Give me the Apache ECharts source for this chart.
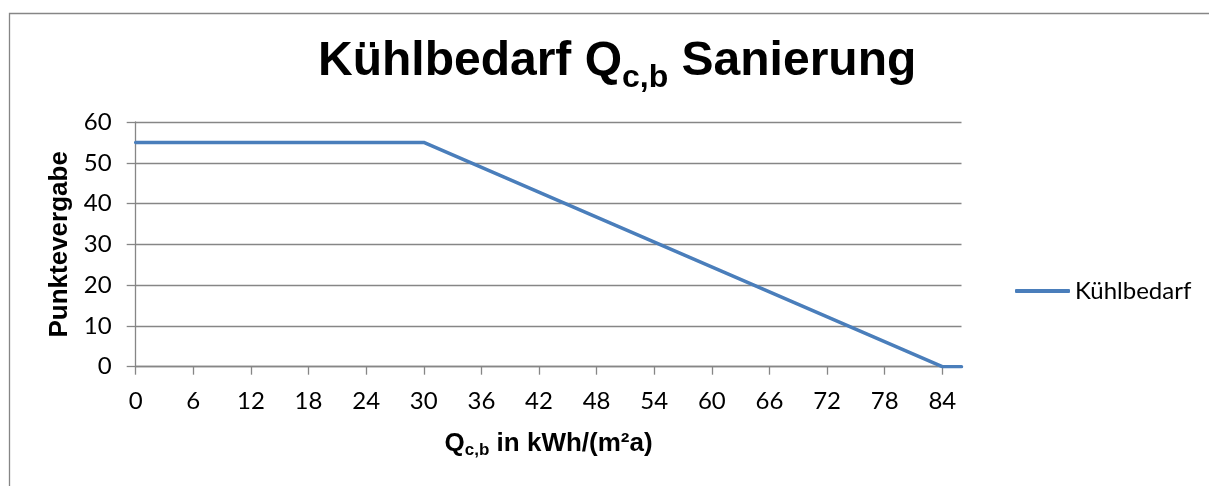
<!DOCTYPE html>
<html>
<head>
<meta charset="utf-8">
<script src="https://cdn.jsdelivr.net/npm/echarts@6/dist/echarts.min.js"></script>
<style>
html,body{margin:0;padding:0;background:#fff;}
#chart{width:1209px;height:486px;}
</style>
</head>
<body>
<div id="chart"></div>
<script>
// Data
const seriesName = 'Kühlbedarf';
const xValues = [0, 30, 84, 86];
const yValues = [55, 55, 0, 0];
const xTickLabels = [0, 6, 12, 18, 24, 30, 36, 42, 48, 54, 60, 66, 72, 78, 84];
const yTickLabels = [0, 10, 20, 30, 40, 50, 60];

const points = xValues.map((x, i) => [x, yValues[i]]);

const gray = '#868686';
const lineBlue = '#4A7EBB';
const labelFont = 'Lato';
const boldFont = '"Liberation Sans", Arial, sans-serif';

const chart = echarts.init(document.getElementById('chart'), null, {renderer: 'canvas'});
chart.setOption({
  animation: false,
  backgroundColor: '#fff',
  graphic: [{
    type: 'rect',
    shape: {x: 9.5, y: 13.5, width: 1400, height: 700},
    style: {fill: null, stroke: gray, lineWidth: 1.3},
    silent: true
  }],
  title: {
    left: 318,
    top: 38,
    padding: 0,
    text: '{a|Kühlbedarf Q}{s|c,b}{a| Sanierung}',
    textStyle: {
      rich: {
        a: {fontFamily: boldFont, fontWeight: 'bold', fontSize: 48, lineHeight: 56, padding: [0, 0, 5, 0], verticalAlign: 'top', color: '#000'},
        s: {fontFamily: boldFont, fontWeight: 'bold', fontSize: 32, lineHeight: 32, verticalAlign: 'bottom', color: '#000'}
      }
    }
  },
  legend: {
    orient: 'vertical',
    left: 1015,
    top: 279,
    padding: 0,
    icon: 'roundRect',
    itemWidth: 55,
    itemHeight: 4,
    data: [seriesName],
    itemStyle: {color: lineBlue},
    textStyle: {fontFamily: labelFont, fontSize: 24, color: '#000'}
  },
  grid: {left: 135.7, right: 247.5, top: 122, bottom: 119.3, containLabel: false},
  xAxis: {
    type: 'value',
    min: 0,
    max: 86,
    interval: 6,
    name: '{q|Q}{s|c,b}{q| in kWh/(m²a)}',
    nameLocation: 'middle',
    nameGap: 62,
    nameTextStyle: {
      rich: {
        q: {fontFamily: boldFont, fontWeight: 'bold', fontSize: 26, lineHeight: 30, color: '#000'},
        s: {fontFamily: boldFont, fontWeight: 'bold', fontSize: 17, lineHeight: 8, verticalAlign: 'bottom', color: '#000'}
      }
    },
    axisLine: {show: true, onZero: true, lineStyle: {color: gray, width: 1.3}},
    axisTick: {show: true, inside: false, length: 8, lineStyle: {color: gray, width: 1.3}, customValues: xTickLabels},
    axisLabel: {customValues: xTickLabels, margin: 23, fontFamily: labelFont, fontSize: 24, color: '#000'},
    splitLine: {show: false}
  },
  yAxis: {
    type: 'value',
    min: 0,
    max: 60,
    interval: 10,
    name: 'Punktevergabe',
    nameLocation: 'middle',
    nameGap: 60,
    nameTextStyle: {fontFamily: boldFont, fontWeight: 'bold', fontSize: 26, color: '#000'},
    axisLine: {show: true, lineStyle: {color: gray, width: 1.3}},
    axisTick: {show: true, inside: false, length: 9, lineStyle: {color: gray, width: 1.3}, customValues: yTickLabels},
    axisLabel: {customValues: yTickLabels, margin: 24, fontFamily: labelFont, fontSize: 24, color: '#000'},
    splitLine: {show: true, lineStyle: {color: gray, width: 1.3}}
  },
  series: [{
    name: seriesName,
    type: 'line',
    data: points,
    symbol: 'none',
    lineStyle: {color: lineBlue, width: 3.5, cap: 'round', join: 'round'},
    itemStyle: {color: lineBlue}
  }]
});
</script>
</body>
</html>
